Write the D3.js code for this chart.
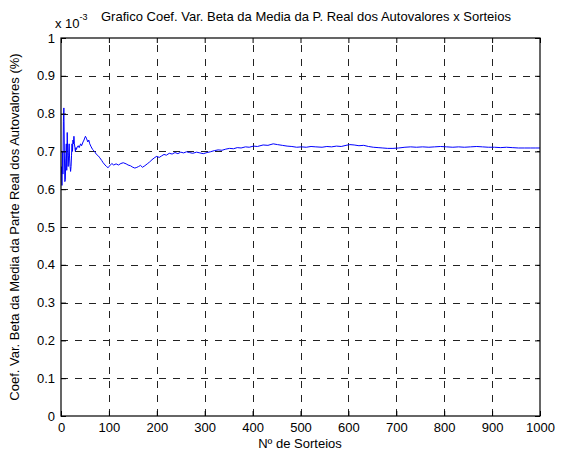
<!DOCTYPE html>
<html><head><meta charset="utf-8">
<script src="https://cdn.jsdelivr.net/npm/d3@7"></script>
<style>body{margin:0;background:#fff}svg{display:block}text{font-family:"Liberation Sans",Arial,sans-serif;fill:#000}</style>
</head><body>
<script>
const title = "Grafico Coef. Var. Beta da Media da P. Real dos Autovalores x Sorteios";
const xLabel = "Nº de Sorteios";
const yLabel = "Coef. Var. Beta da Media da Parte Real dos Autovalores (%)";
const xTicks = [0,100,200,300,400,500,600,700,800,900,1000];
const yTicks = [0,0.1,0.2,0.3,0.4,0.5,0.6,0.7,0.8,0.9,1];
const yTickLabels = ["0","0.1","0.2","0.3","0.4","0.5","0.6","0.7","0.8","0.9","1"];
const sorteios = [1,2,3,4,5,6,7,8,9,10,11,12,13,14,15,16,17,18,19,20,21,22,23,24,25,26,27,28,29,30,31,32,34,36,38,41,43,46,48,51,53,56,58,60,63,66,70,74,78,81,85,88,92,95,98,102,106,110,115,120,125,130,136,140,145,150,154,157,162,166,170,175,180,185,190,196,200,205,210,215,220,226,232,238,244,250,256,262,268,275,283,290,297,305,312,320,328,336,344,352,360,368,376,385,393,402,410,422,432,443,452,462,472,482,492,502,512,522,532,545,555,565,575,585,595,603,612,622,632,642,652,662,672,682,693,705,718,730,742,755,768,780,792,805,818,830,842,855,868,880,892,905,918,930,942,955,968,980,990,1000];
const coefVar = [0.66,0.61,0.70,0.64,0.78,0.815,0.70,0.62,0.625,0.68,0.72,0.65,0.75,0.70,0.66,0.69,0.72,0.68,0.66,0.647,0.66,0.69,0.72,0.70,0.73,0.72,0.74,0.72,0.71,0.70,0.71,0.705,0.712,0.715,0.71,0.72,0.715,0.725,0.73,0.74,0.735,0.725,0.73,0.72,0.712,0.705,0.70,0.692,0.688,0.683,0.676,0.67,0.664,0.66,0.657,0.662,0.668,0.664,0.667,0.664,0.668,0.67,0.667,0.664,0.662,0.658,0.656,0.657,0.66,0.663,0.658,0.662,0.667,0.672,0.678,0.684,0.687,0.684,0.688,0.692,0.69,0.695,0.693,0.697,0.694,0.698,0.696,0.699,0.697,0.695,0.698,0.696,0.694,0.697,0.699,0.702,0.704,0.703,0.706,0.708,0.707,0.71,0.709,0.712,0.711,0.714,0.713,0.717,0.716,0.72,0.718,0.716,0.714,0.713,0.711,0.712,0.711,0.713,0.712,0.711,0.713,0.712,0.714,0.713,0.716,0.718,0.717,0.715,0.716,0.713,0.711,0.71,0.709,0.708,0.708,0.709,0.711,0.712,0.711,0.712,0.711,0.712,0.713,0.712,0.711,0.712,0.711,0.712,0.713,0.712,0.711,0.711,0.71,0.711,0.71,0.709,0.709,0.709,0.709,0.709];

const W=579,H=453;
const m={l:61,r:540,t:38,b:416};
const FS="13px";
const svg=d3.select("body").append("svg").attr("width",W).attr("height",H);
const x=d3.scaleLinear().domain([0,1000]).range([m.l,m.r]);
const y=d3.scaleLinear().domain([0,1]).range([m.b,m.t]);

// grid
const g=svg.append("g");
g.selectAll(".gx").data(xTicks.slice(1,-1)).join("line")
 .attr("x1",d=>Math.round(x(d))+0.5).attr("x2",d=>Math.round(x(d))+0.5)
 .attr("y1",m.b).attr("y2",m.t)
 .attr("stroke","#222").attr("stroke-width",1).attr("stroke-dasharray","7,7");
g.selectAll(".gy").data(yTicks.slice(1,-1)).join("line")
 .attr("y1",d=>Math.round(y(d))+0.5).attr("y2",d=>Math.round(y(d))+0.5)
 .attr("x1",m.l).attr("x2",m.r)
 .attr("stroke","#222").attr("stroke-width",1).attr("stroke-dasharray","7,7");

// line
const line=d3.line().x((d,i)=>x(sorteios[i])).y(d=>y(d));
svg.append("path").datum(coefVar).attr("d",line)
 .attr("fill","none").attr("stroke","#0000ff").attr("stroke-width",1);

// axes
const tk=5;
const xb=svg.append("g").attr("transform",`translate(0,${m.b})`)
 .call(d3.axisBottom(x).tickValues(xTicks).tickSize(-tk).tickFormat(d3.format("d")));
const xt=svg.append("g").attr("transform",`translate(0,${m.t})`)
 .call(d3.axisTop(x).tickValues(xTicks).tickSize(-tk).tickFormat(""));
const yl=svg.append("g").attr("transform",`translate(${m.l},0)`)
 .call(d3.axisLeft(y).tickValues(yTicks).tickSize(-tk).tickFormat((d,i)=>yTickLabels[i]));
const yr=svg.append("g").attr("transform",`translate(${m.r},0)`)
 .call(d3.axisRight(y).tickValues(yTicks).tickSize(-tk).tickFormat(""));
[xb,xt,yl,yr].forEach(a=>{
  a.selectAll("line").attr("stroke","#000");
  a.selectAll("text").attr("font-size",FS).attr("font-family","Liberation Sans, Arial, sans-serif").attr("fill","#000");
  a.select(".domain").remove();
});
svg.append("rect").attr("x",m.l).attr("y",m.t).attr("width",m.r-m.l).attr("height",m.b-m.t)
 .attr("fill","none").attr("stroke","#000").attr("stroke-width",1.2);
xb.selectAll("text").attr("dy","0.71em").attr("y",7);
yl.selectAll("text").attr("x",-6);

// title + labels
svg.append("text").attr("x",306).attr("y",21).attr("text-anchor","middle").attr("font-size",FS).text(title);
const ex=svg.append("text").attr("x",55).attr("y",28).attr("font-size",FS);
ex.append("tspan").text("x 10");
ex.append("tspan").attr("dy",-8).attr("font-size","9px").text("-3");
svg.append("text").attr("x",300).attr("y",448).attr("text-anchor","middle").attr("font-size",FS).text(xLabel);
svg.append("text").attr("transform",`translate(19,${(m.t+m.b)/2}) rotate(-90)`).attr("text-anchor","middle").attr("font-size",FS).text(yLabel);
</script>
</body></html>
